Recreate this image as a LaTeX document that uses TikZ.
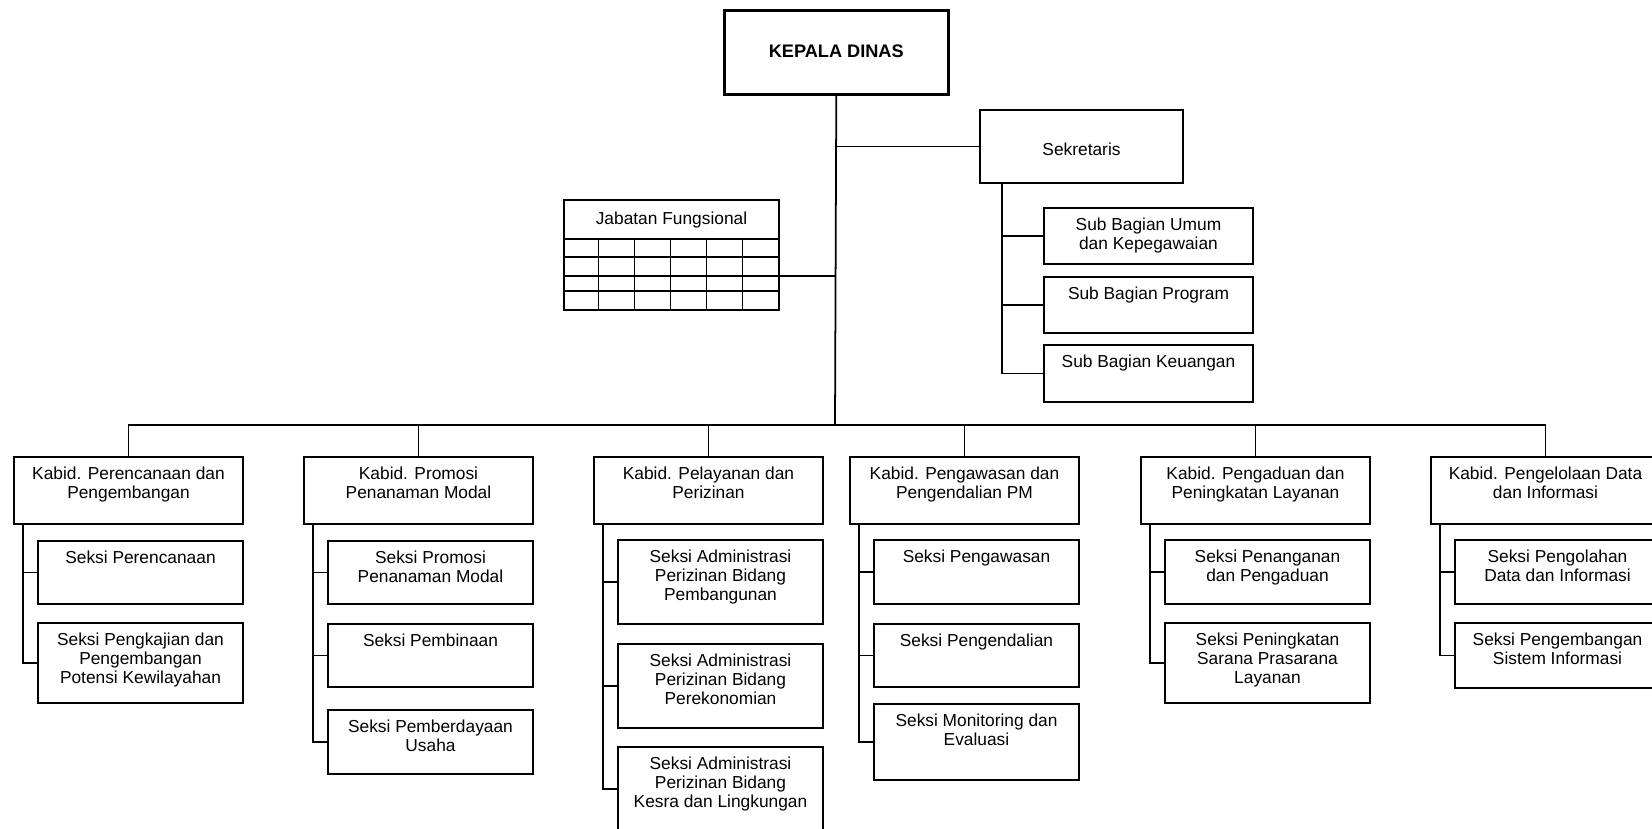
\documentclass[tikz,border=0pt]{standalone}
\usepackage{fontspec}
\setmainfont{Liberation Sans}
\usetikzlibrary{calc}
\newdimen\px \px=0.03cm
% box content: [strut] {width} {height} {text}, text at top
\newcommand{\isi}[4][19.2pt]{\parbox[c][#3\px][t]{#2\px}{\centering\rule{0pt}{#1}#4}}

\begin{document}
\begin{tikzpicture}[x=0.03cm,y=-0.03cm,
    kotak/.style={draw,line width=1.7pt,inner sep=0pt,anchor=north west,font=\fontsize{14.8}{16.2}\selectfont},
    garis/.style={line width=1.5pt},
    tipis/.style={line width=1.1pt}]
  \useasboundingbox (0,0) rectangle (1652,828);

  \node[kotak,line width=2.2pt,font=\fontsize{15.5}{18}\selectfont\bfseries] (kd) at (723,9) {\isi[40pt]{224}{84}{KEPALA DINAS}};
  \node[kotak] (sek) at (979,109) {\isi[38.6pt]{203}{73}{Sekretaris}};
  \node[kotak] (jf) at (563,199) {\isi[20.7pt]{215}{110}{Jabatan Fungsional}};
  \foreach \y in {239,257,276} \draw[tipis] (563,\y) -- (778,\y);
  \draw[line width=2.2pt] (563,291) -- (778,291);
  \foreach \i in {1,...,5} \draw[tipis] ({563+35.83*\i},239) -- ({563+35.83*\i},309);
  \coordinate (jfk) at (778,276);

  \node[kotak] (sb1) at (1043,207) {\isi{209}{56}{Sub Bagian Umum\\dan Kepegawaian}};
  \node[kotak] (sb2) at (1043,276) {\isi{209}{56}{Sub Bagian Program}};
  \node[kotak] (sb3) at (1043,344) {\isi{209}{57}{Sub Bagian Keuangan}};

  \coordinate (bus) at (835,425);

  \node[kotak] (k1) at (13,456) {\isi{229}{67}{Kabid. Perencanaan dan\\Pengembangan}};
  \node[kotak] (k2) at (303,456) {\isi{229}{67}{Kabid. Promosi\\Penanaman Modal}};
  \node[kotak] (k3) at (593,456) {\isi{229}{67}{Kabid. Pelayanan dan\\Perizinan}};
  \node[kotak] (k4) at (849,456) {\isi{229}{67}{Kabid. Pengawasan dan\\Pengendalian PM}};
  \node[kotak] (k5) at (1140,456) {\isi{229}{67}{Kabid. Pengaduan dan\\Peningkatan Layanan}};
  \node[kotak] (k6) at (1430,456) {\isi{229}{67}{Kabid. Pengelolaan Data\\dan Informasi}};

  \node[kotak] (s11) at (37,540) {\isi{205}{63}{Seksi Perencanaan}};
  \node[kotak] (s12) at (37,622) {\isi{205}{80}{Seksi Pengkajian dan\\Pengembangan\\Potensi Kewilayahan}};

  \node[kotak] (s21) at (327,540) {\isi{205}{63}{Seksi Promosi\\Penanaman Modal}};
  \node[kotak] (s22) at (327,623) {\isi{205}{63}{Seksi Pembinaan}};
  \node[kotak] (s23) at (327,709) {\isi{205}{64}{Seksi Pemberdayaan\\Usaha}};

  \node[kotak] (s31) at (617,539) {\isi{205}{84}{Seksi Administrasi\\Perizinan Bidang\\Pembangunan}};
  \node[kotak] (s32) at (617,643) {\isi{205}{84}{Seksi Administrasi\\Perizinan Bidang\\Perekonomian}};
  \node[kotak] (s33) at (617,746) {\isi{205}{84}{Seksi Administrasi\\Perizinan Bidang\\Kesra dan Lingkungan}};

  \node[kotak] (s41) at (873,539) {\isi{205}{64}{Seksi Pengawasan}};
  \node[kotak] (s42) at (873,623) {\isi{205}{63}{Seksi Pengendalian}};
  \node[kotak] (s43) at (873,703) {\isi{205}{76}{Seksi Monitoring dan\\Evaluasi}};

  \node[kotak] (s51) at (1164,539) {\isi{205}{64}{Seksi Penanganan\\dan Pengaduan}};
  \node[kotak] (s52) at (1164,622) {\isi{205}{80}{Seksi Peningkatan\\Sarana Prasarana\\Layanan}};

  \node[kotak] (s61) at (1454,539) {\isi{205}{64}{Seksi Pengolahan\\Data dan Informasi}};
  \node[kotak] (s62) at (1454,622) {\isi{205}{65}{Seksi Pengembangan\\Sistem Informasi}};

  % connectors
  \draw[garis] (kd.south) -- (bus);
  \draw[garis] (sek.west) -- (sek.west -| kd.south);
  \draw[garis] (jfk) -- (jfk -| kd.south);
  \foreach \j in {1,2,3} \draw[garis] (sek.south west) ++(23,0) |- (sb\j.west);
  \foreach \i in {1,...,6} \draw[garis] (k\i.north) |- (bus);
  \foreach \i/\n in {1/2,2/3,3/3,4/3,5/2,6/2}
    \foreach \j in {1,...,\n}
      \draw[garis] (k\i.south west) ++(10,0) |- (s\i\j.west);
\end{tikzpicture}
\end{document}
